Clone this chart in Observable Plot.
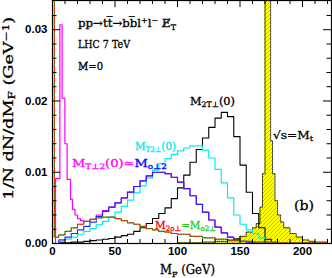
<!DOCTYPE html>
<html><head><meta charset="utf-8">
<script src="https://cdn.jsdelivr.net/npm/d3@7"></script>
<script src="https://cdn.jsdelivr.net/npm/@observablehq/plot@0.6"></script>
<style>body{margin:0;background:#fff}</style>
</head><body><div id="chart"></div>
<script>
// ---- data ----
const blackX = [0,5,10,15,20,25,30,35,40,45,50,55,60,65,70,75,80,85,90,95,100,105,110,115,120,125,130,135,140,145,150,155,160,165,170,175,180];
const blackY = [0,0.0001,0.0001,0.0002,0.0002,0.0003,0.0004,0.0005,0.0006,0.0007,0.0009,0.0011,0.0013,0.0017,0.0022,0.0028,0.0035,0.0042,0.0050,0.0063,0.0078,0.0096,0.0114,0.0132,0.0148,0.0163,0.0176,0.0184,0.0178,0.0150,0.0110,0.0072,0.0042,0.0022,0.0006,0.0001,0];

const cyanX = [0,5,10,15,20,25,30,35,40,45,50,55,60,65,70,75,80,85,90,95,100,105,110,115,120,125,130,135,140,145,150,155,160,165,170,175];
const cyanY = [0,0.0003,0.0006,0.0009,0.0013,0.0017,0.0021,0.0026,0.0031,0.0037,0.0044,0.0052,0.0061,0.0071,0.0081,0.0092,0.0103,0.0112,0.0119,0.0125,0.0130,0.0134,0.0137,0.0137,0.0131,0.0120,0.0104,0.0085,0.0064,0.0040,0.0027,0.0019,0.0014,0.0008,0.0002,0];

const blueX = [0,5,10,15,20,25,30,35,40,45,50,55,60,65,70,75,80,85,90,95,100,105,110,115,120,125,130,135,140,145,150,155,160,165];
const blueY = [0,0.0005,0.0009,0.0014,0.0019,0.0024,0.0030,0.0038,0.0045,0.0051,0.0057,0.0064,0.0072,0.0080,0.0088,0.0095,0.0100,0.0100,0.0098,0.0093,0.0086,0.0077,0.0067,0.0055,0.0044,0.0033,0.0023,0.0015,0.0009,0.0005,0.0003,0.0002,0.0001,0];

const magentaX = [0,2.4,5.9,7.7,9.9,11.7,14.4,16,18,20,22.5,25,30,35,40,45,50,55,60,65,70,75,80,85,90,95,100,105,110,115,120,125,130,135,140,145,150,155,160,165];
const magentaY = [0,0.0091,0.0307,0.0204,0.0140,0.0090,0.0062,0.0048,0.0040,0.0035,0.0032,0.0031,0.0034,0.0040,0.0046,0.0051,0.0057,0.0064,0.0072,0.0080,0.0088,0.0095,0.0100,0.0100,0.0098,0.0093,0.0086,0.0077,0.0067,0.0055,0.0044,0.0033,0.0023,0.0015,0.0009,0.0005,0.0003,0.0002,0.0001,0];

const greenX = [0,1.5,5,10,15,20,25,30,35,40,45,50,55,60,65,70,75,80,85,90,95,100,110,120,130,140,150,160,170,180,200,220];
const greenY = [0.05,0.0009,0.0012,0.0017,0.0022,0.0027,0.0031,0.0034,0.0036,0.0037,0.0037,0.0035,0.0032,0.0029,0.0027,0.0024,0.0021,0.0019,0.0017,0.0016,0.0014,0.0013,0.0010,0.0008,0.0006,0.0004,0.0003,0.0002,0.0002,0.0001,0.0001,0];

const yellowX = [90,100,110,120,130,140,145,150,155,160,163,166,168,170,172,174.5,176,178,180,182.5,185,190,195,200,205,210,220];
const yellowY = [0,0.0001,0.0001,0.0002,0.0003,0.0005,0.0007,0.0010,0.0016,0.0022,0.0028,0.0051,0.0098,0.05,0.06,0.0144,0.0098,0.0060,0.0040,0.0030,0.0022,0.0014,0.0009,0.0005,0.0003,0.0002,0.0001];

const xTicks = [0,50,100,150,200];
const xMinor = [10,20,30,40,60,70,80,90,110,120,130,140,160,170,180,190,210,220];
const yTicks = [0,0.01,0.02,0.03];
const yMinor = [0.002,0.004,0.006,0.008,0.012,0.014,0.016,0.018,0.022,0.024,0.026,0.028,0.032];

const xDomain = [0, 223.2];
const yDomain = [0, 0.0341];

const rows = (xs, ys) => xs.map((x, i) => ({x, y: ys[i]}));
const black = rows(blackX, blackY), cyan = rows(cyanX, cyanY), blue = rows(blueX, blueY),
      magenta = rows(magentaX, magentaY), green = rows(greenX, greenY), yellow = rows(yellowX, yellowY);

const step = "step-after";
const plot = Plot.plot({
  width: 332, height: 278,
  marginLeft: 52, marginRight: 1, marginTop: 0, marginBottom: 35,
  x: {domain: xDomain},
  y: {domain: yDomain},
  style: {background: "white", fontFamily: "Liberation Sans", fontSize: "11.5px", fontWeight: "bold", color: "black"},
  marks: [
    Plot.areaY(yellow, {x: "x", y: "y", curve: step, fill: "#ffff00", clip: true}),
    Plot.areaY(yellow, {x: "x", y: "y", curve: step, fill: "url(#hatch)", clip: true}),
    Plot.lineY(yellow, {x: "x", y: "y", curve: step, stroke: "black", strokeWidth: 0.8, strokeDasharray: "1,1", clip: true}),
    Plot.lineY(black, {x: "x", y: "y", curve: step, stroke: "black", strokeWidth: 1.1, clip: true}),
    Plot.lineY(cyan, {x: "x", y: "y", curve: step, stroke: "#00f0f0", strokeWidth: 1.2, clip: true}),
    Plot.lineY(magenta, {x: "x", y: "y", curve: step, stroke: "#ff00ff", strokeWidth: 1.2, clip: true}),
    Plot.lineY(blue, {x: "x", y: "y", curve: step, stroke: "#2020ff", strokeWidth: 1.2, strokeDasharray: "1.5,1", clip: true}),
    Plot.lineY(green, {x: "x", y: "y", curve: step, stroke: "#22cc22", strokeWidth: 1.2, clip: true}),
    Plot.lineY(green, {x: "x", y: "y", curve: step, stroke: "#ff0000", strokeWidth: 1, strokeDasharray: "1,1.5", clip: true}),
    Plot.frame({stroke: "black", strokeWidth: 1.2}),
    // ticks inward on all four sides
    Plot.ruleX(xTicks, {x: d => d, y1: 0, y2: 0.0010, stroke: "black"}),
    Plot.ruleX(xTicks, {x: d => d, y1: yDomain[1], y2: yDomain[1] - 0.0010, stroke: "black"}),
    Plot.ruleX(xMinor, {x: d => d, y1: 0, y2: 0.00056, stroke: "black"}),
    Plot.ruleX(xMinor, {x: d => d, y1: yDomain[1], y2: yDomain[1] - 0.00056, stroke: "black"}),
    Plot.ruleY(yTicks, {y: d => d, x1: 0, x2: 6.4, stroke: "black"}),
    Plot.ruleY(yTicks, {y: d => d, x1: xDomain[1], x2: xDomain[1] - 6.4, stroke: "black"}),
    Plot.ruleY(yMinor, {y: d => d, x1: 0, x2: 3.6, stroke: "black"}),
    Plot.ruleY(yMinor, {y: d => d, x1: xDomain[1], x2: xDomain[1] - 3.6, stroke: "black"}),
    Plot.axisX({ticks: xTicks, tickSize: 0, tickPadding: 3, tickFormat: d => String(d), label: null}),
    Plot.axisY({ticks: yTicks, tickSize: 0, tickPadding: 5, tickFormat: d3.format(".2f"), label: null})
  ]
});
document.getElementById("chart").append(plot);

const svg = d3.select(plot);
// diagonal hatch pattern used inside the yellow area
const pat = svg.insert("defs", ":first-child").append("pattern")
  .attr("id", "hatch").attr("patternUnits", "userSpaceOnUse").attr("width", 4).attr("height", 4);
pat.append("path").attr("d", "M-1,5 L5,-1").attr("stroke", "#8a8a00").attr("stroke-width", 0.5);

// ---- annotations (positions in data units, placed through the plot's scales) ----
const X = v => plot.scale("x").apply(v), Y = v => plot.scale("y").apply(v);
const g = svg.append("g").attr("font-weight", "normal").attr("text-anchor", "start");

function rich(x, y, parts, o = {}) {
  const size = o.size || 11;
  const t = g.append("text").attr("x", x).attr("y", y)
    .attr("font-family", o.font || "DejaVu Serif").attr("font-size", size)
    .attr("fill", "black").attr("stroke", "black").attr("stroke-width", 0.3)
    .attr("text-anchor", o.anchor || "start");
  if (o.rotate) t.attr("transform", `rotate(${o.rotate},${x},${y})`);
  if (o.len) t.attr("textLength", o.len).attr("lengthAdjust", "spacingAndGlyphs");
  let shift = 0;
  for (const [txt, color, kind] of parts) {
    const target = kind === "sub" ? 2.5 : kind === "sup" ? -4 : 0;
    const s = t.append("tspan").attr("dy", target - shift).text(txt);
    shift = target;
    if (color) s.attr("fill", color).attr("stroke", color);
    if (kind) s.attr("font-size", size * 0.68);
  }
}

const MAG = "#ff00ff", BLU = "#0000ff", RED = "#ff0000", GRN = "#22cc22", CYN = "#00e8f0";
const labelX = [20.8, 20.8, 20.8, 110.4, 66.4, 16, 82.4, 176.8, 193.6];
const labelY = [0.0303, 0.0274, 0.0243, 0.0194, 0.01306, 0.01067, 0.00197, 0.0146, 0.00463];
const labelLen = [98, 52, 25, 45, 41, 95, 61, 40, 20];
const labelParts = [
  [["pp→tt\u0305→bb\u0305l"], ["+", null, "sup"], ["l"], ["−", null, "sup"], [" E\u0338"], ["T", null, "sub"]],
  [["LHC 7 TeV"]],
  [["M\u0338=0"]],
  [["M"], ["2T⊥", null, "sub"], ["(0)"]],
  [["M", CYN], ["T2⊥", CYN, "sub"], ["(0)", CYN]],
  [["M", MAG], ["T⊥2", MAG, "sub"], ["(0)≃", MAG], ["M", BLU], ["o⊥2", BLU, "sub"]],
  [["M", RED], ["2o⊥", RED, "sub"], ["=M", GRN], ["o2⊥", GRN, "sub"]],
  [["√s=M"], ["t", null, "sub"]],
  [["(b)"]]
];
labelParts.forEach((p, i) => rich(X(labelX[i]), Y(labelY[i]), p, {len: labelLen[i], size: i === 8 ? 13 : 11}));

// axis titles
rich(X(0) - 39, Y(0.0189), [["1/N dN/dM"], ["F", null, "sub"], [" (GeV"], ["−1", null, "sup"], [")"]],
     {anchor: "middle", rotate: -90, size: 13, len: 183});
rich(X(86.4), Y(0) + 31, [["M"], ["F", null, "sub"], [" (GeV)"]], {size: 12, len: 55});
</script>
</body></html>
